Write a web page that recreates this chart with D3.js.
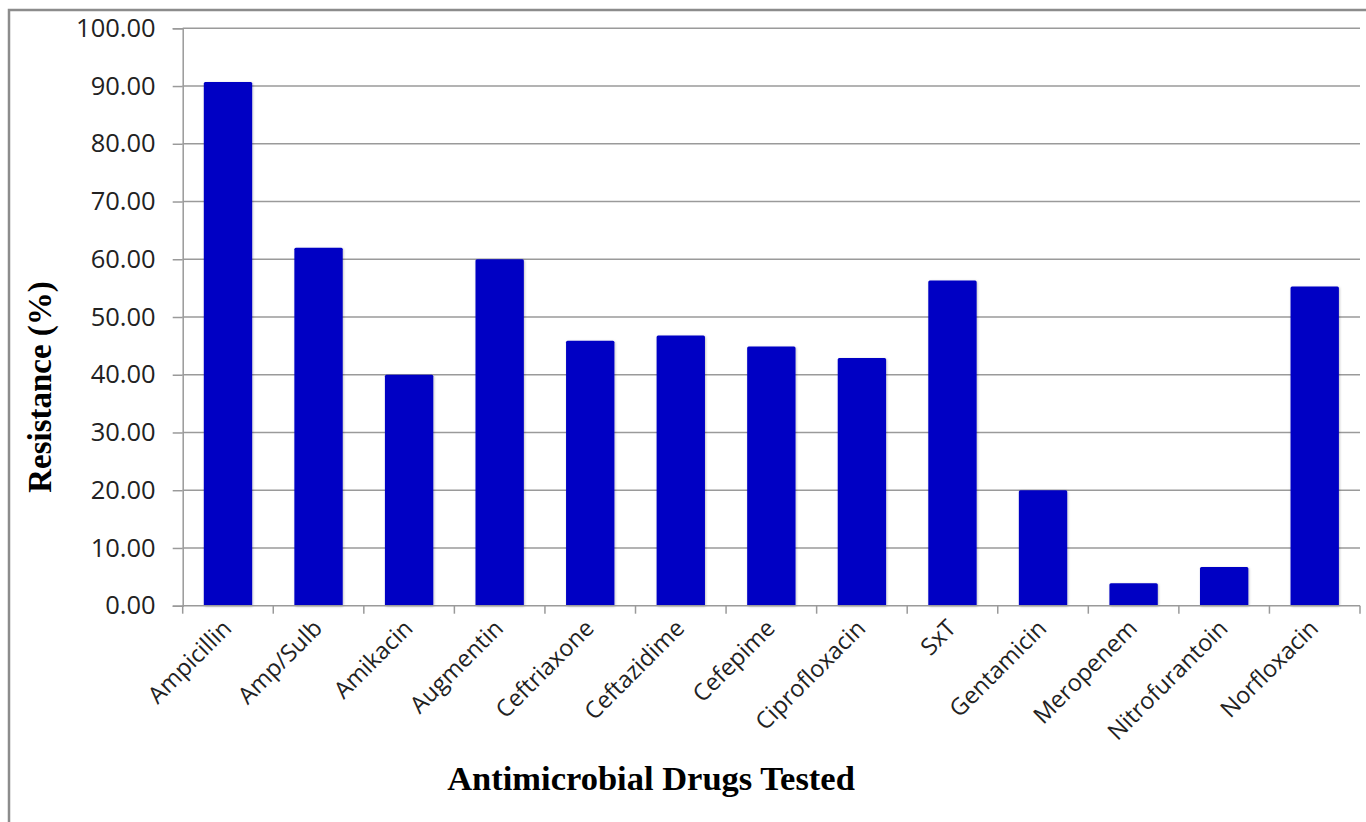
<!DOCTYPE html>
<html>
<head>
<meta charset="utf-8">
<script src="https://cdn.jsdelivr.net/npm/d3@7"></script>
<style>
  html, body { margin: 0; padding: 0; background: #fff; }
  svg { display: block; }
</style>
</head>
<body>
<svg id="chart" width="1366" height="822"></svg>
<script>
// Antimicrobial resistance by drug (%)
const drugs = ["Ampicillin", "Amp/Sulb", "Amikacin", "Augmentin", "Ceftriaxone", "Ceftazidime",
  "Cefepime", "Ciprofloxacin", "SxT", "Gentamicin", "Meropenem", "Nitrofurantoin", "Norfloxacin"];
const resistance = [90.7, 62.0, 40.0, 60.0, 45.9, 46.8, 44.9, 42.9, 56.3, 20.0, 3.9, 6.7, 55.3];
const yTicks = [0, 10, 20, 30, 40, 50, 60, 70, 80, 90, 100];
const yTitle = "Resistance (%)";
const xTitle = "Antimicrobial Drugs Tested";

const svg = d3.select("#chart");
const plot = { left: 182.7, right: 1360, top: 28.3, bottom: 605.7 };

// outer chart frame
svg.append("rect")
  .attr("x", 9).attr("y", 10)
  .attr("width", 1400).attr("height", 900)
  .attr("fill", "#fff").attr("stroke", "#8c8c8c").attr("stroke-width", 2.5);

const defs = svg.append("defs");
const shadow = defs.append("filter").attr("id", "barShadow")
  .attr("x", "-20%").attr("y", "-20%").attr("width", "140%").attr("height", "140%");
shadow.append("feDropShadow")
  .attr("dx", 0.8).attr("dy", 0.8).attr("stdDeviation", 1.2)
  .attr("flood-color", "#000").attr("flood-opacity", 0.25);

const x = d3.scaleBand()
  .domain(drugs)
  .range([plot.left, plot.right])
  .paddingInner(0.466)
  .paddingOuter(0.233);

const y = d3.scaleLinear()
  .domain([0, 100])
  .range([plot.bottom, plot.top]);

// horizontal gridlines
svg.append("g")
  .selectAll("line")
  .data(yTicks.filter(t => t > 0))
  .join("line")
  .attr("x1", plot.left).attr("x2", plot.right)
  .attr("y1", d => y(d)).attr("y2", d => y(d))
  .attr("stroke", "#9a9a9a").attr("stroke-width", 1.5);

// y axis
const yAxis = svg.append("g")
  .attr("transform", `translate(${plot.left},0)`)
  .call(d3.axisLeft(y).tickValues(yTicks).tickFormat(d3.format(".2f")).tickSize(10).tickPadding(17));
yAxis.select(".domain").attr("stroke", "#9a9a9a").attr("stroke-width", 1.5);
yAxis.selectAll(".tick line").attr("stroke", "#9a9a9a").attr("stroke-width", 1.5);
yAxis.selectAll(".tick text")
  .attr("font-family", "'Open Sans', sans-serif")
  .attr("font-size", 25.5)
  .attr("fill", "#222");

// bars
svg.append("g")
  .selectAll("rect")
  .data(drugs.map((d, i) => ({ drug: d, value: resistance[i] })))
  .join("rect")
  .attr("x", d => x(d.drug))
  .attr("y", d => y(d.value))
  .attr("width", x.bandwidth())
  .attr("height", d => y(0) - y(d.value))
  .attr("fill", "#0505c4")
  .attr("rx", 1.5)
  .attr("filter", "url(#barShadow)");

// x axis with category separators
const step = x.step();
const boundaries = d3.range(drugs.length + 1).map(i => plot.left + i * step);
const xAxis = svg.append("g");
xAxis.append("line")
  .attr("x1", plot.left).attr("x2", plot.right)
  .attr("y1", plot.bottom).attr("y2", plot.bottom)
  .attr("stroke", "#9a9a9a").attr("stroke-width", 1.5);
xAxis.selectAll("line.sep")
  .data(boundaries)
  .join("line")
  .attr("class", "sep")
  .attr("x1", d => d).attr("x2", d => d)
  .attr("y1", plot.bottom).attr("y2", plot.bottom + 8)
  .attr("stroke", "#9a9a9a").attr("stroke-width", 1.5);

xAxis.selectAll("text")
  .data(drugs)
  .join("text")
  .attr("transform", d => `translate(${x(d) + x.bandwidth() / 2 + 5},${plot.bottom + 24}) rotate(-45)`)
  .attr("text-anchor", "end")
  .attr("font-family", "'Open Sans', sans-serif")
  .attr("font-size", 23.5)
  .attr("fill", "#222")
  .text(d => d);

// axis titles
svg.append("text")
  .attr("transform", `translate(51,387) rotate(-90)`)
  .attr("text-anchor", "middle")
  .attr("font-family", "'Liberation Serif', 'Times New Roman', serif")
  .attr("font-weight", "bold")
  .attr("font-size", 33)
  .attr("fill", "#000")
  .text(yTitle);

svg.append("text")
  .attr("x", 651).attr("y", 790)
  .attr("text-anchor", "middle")
  .attr("font-family", "'Liberation Serif', 'Times New Roman', serif")
  .attr("font-weight", "bold")
  .attr("font-size", 34.5)
  .attr("fill", "#000")
  .text(xTitle);
</script>
</body>
</html>
